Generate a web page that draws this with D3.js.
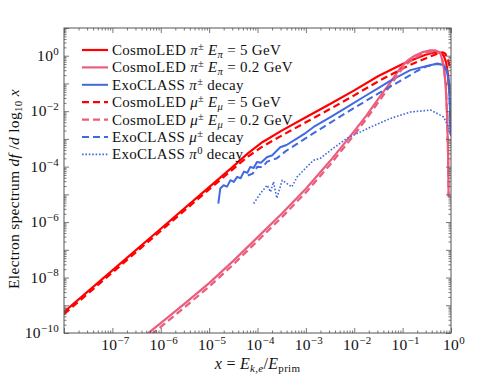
<!DOCTYPE html>
<html><head><meta charset="utf-8">
<script src="https://cdn.jsdelivr.net/npm/d3@7"></script>
<style>body{margin:0;background:#fff}svg{display:block}text{font-family:"Liberation Serif","DejaVu Serif",serif;fill:#111}</style>
</head><body><svg id="c" width="498" height="374"></svg>
<script>
// ---- data (log10 x, log10 y) ----
const redSolidX = [-8,-7,-6,-5,-4.5,-4.2,-3.9,-3.5,-3,-2.5,-2,-1.5,-1.0,-0.7,-0.5,-0.35,-0.25,-0.15,-0.1,-0.06,-0.04];
const redSolidY = [-9.24,-7.74,-6.24,-4.74,-3.99,-3.52,-3.12,-2.70,-2.22,-1.74,-1.25,-0.73,-0.30,-0.08,0.05,0.12,0.13,0.0,-0.25,-0.7,-1.2];
const redDashX = [-8,-7,-6,-5,-4.5,-4.2,-3.9,-3.5,-3,-2.5,-2,-1.5,-1.0,-0.7,-0.5,-0.35,-0.25,-0.18,-0.12,-0.07,-0.03];
const redDashY = [-9.32,-7.82,-6.32,-4.82,-4.08,-3.64,-3.28,-2.88,-2.40,-1.92,-1.43,-0.92,-0.46,-0.22,-0.08,0.03,0.10,0.12,0.08,-0.10,-0.38];
const pinkSolidX = [-6.3,-6,-5.5,-5,-4.5,-4,-3.5,-3,-2.5,-2,-1.75,-1.5,-1.25,-1.05,-0.9,-0.75,-0.6,-0.45,-0.32,-0.22,-0.15,-0.11,-0.08,-0.06,-0.05];
const pinkSolidY = [-10.06,-9.64,-8.93,-8.20,-7.40,-6.55,-5.70,-4.80,-3.80,-2.72,-2.16,-1.55,-0.95,-0.45,-0.18,0.0,0.12,0.19,0.19,0.12,-0.40,-1.06,-2.2,-3.6,-5.1];
const pinkDashX = [-6.2,-6,-5.5,-5,-4.5,-4,-3.5,-3,-2.5,-2,-1.75,-1.5,-1.25,-1.05,-0.9,-0.75,-0.6,-0.45,-0.32,-0.22,-0.15,-0.11,-0.08,-0.06,-0.05];
const pinkDashY = [-10.06,-9.78,-9.06,-8.33,-7.53,-6.68,-5.83,-4.93,-3.93,-2.85,-2.28,-1.67,-1.07,-0.56,-0.28,-0.08,0.05,0.13,0.15,0.10,-0.35,-1.0,-2.1,-3.5,-5.0];
const blueSolidX = [-4.81,-4.77,-4.70,-4.63,-4.56,-4.49,-4.42,-4.35,-4.28,-4.21,-4.15,-4.08,-4.01,-3.93,-3.80,-3.70,-3.53,-3.40,-3.18,-3.0,-2.84,-2.5,-2.15,-1.8,-1.46,-1.25,-0.84,-0.56,-0.28,-0.15,-0.08,-0.04,-0.02,-0.01];
const blueSolidY = [-5.33,-4.79,-4.67,-4.72,-4.49,-4.55,-4.37,-4.42,-4.18,-4.22,-4.01,-4.05,-3.83,-3.86,-3.65,-3.60,-3.30,-3.22,-2.98,-2.78,-2.57,-2.22,-1.85,-1.48,-1.12,-0.90,-0.52,-0.40,-0.28,-0.34,-0.60,-1.06,-2.0,-2.86];
const blueDashX = [-4.2,-4.1,-4.0,-3.9,-3.8,-3.6,-3.4,-3.2,-3.0,-2.5,-2.0,-1.5,-1.0,-0.7,-0.5,-0.3,-0.15,-0.08,-0.04,-0.02,-0.01];
const blueDashY = [-4.32,-4.25,-4.0,-4.02,-3.82,-3.70,-3.42,-3.20,-2.97,-2.42,-1.88,-1.36,-0.86,-0.55,-0.38,-0.30,-0.32,-0.55,-1.0,-1.9,-2.8];
const blueDotX = [-4.08,-3.94,-3.80,-3.73,-3.67,-3.60,-3.49,-3.39,-3.29,-3.18,-2.98,-2.84,-2.70,-2.49,-2.15,-1.66,-1.25,-0.84,-0.42,-0.15,-0.04,0];
const blueDotY = [-5.33,-4.97,-4.67,-4.91,-4.55,-5.14,-4.49,-4.61,-4.73,-4.37,-4.01,-3.77,-3.70,-3.41,-2.98,-2.57,-2.26,-2.03,-1.96,-2.21,-2.62,-2.9];

const xTickExp = [-7,-6,-5,-4,-3,-2,-1,0];
const yTickExp = [-10,-8,-6,-4,-2,0];

const series = [
  {name:"redSolid", xs:redSolidX, ys:redSolidY, color:"#ff0000", dash:null, w:2.2},
  {name:"pinkSolid", xs:pinkSolidX, ys:pinkSolidY, color:"#ec5c7c", dash:null, w:2.2},
  {name:"blueSolid", xs:blueSolidX, ys:blueSolidY, color:"#4169e1", dash:null, w:2.0},
  {name:"redDash", xs:redDashX, ys:redDashY, color:"#ff0000", dash:"7,4", w:2.2},
  {name:"pinkDash", xs:pinkDashX, ys:pinkDashY, color:"#ec5c7c", dash:"7,4", w:2.2},
  {name:"blueDash", xs:blueDashX, ys:blueDashY, color:"#4169e1", dash:"7,4", w:2.0},
  {name:"blueDot", xs:blueDotX, ys:blueDotY, color:"#4169e1", dash:"1.6,1.8", w:1.6}
];

const L=64, R=451, T=28, B=333;
const svg = d3.select("#c");
const x = d3.scaleLog().domain([1e-8,1]).range([L,R]);
const y = d3.scaleLog().domain([1e-10,10]).range([B,T]);
const p10 = v => Math.pow(10,v);

svg.append("clipPath").attr("id","clip").append("rect").attr("x",L).attr("y",T).attr("width",R-L).attr("height",B-T);

const line = d3.line().x(d=>x(p10(d[0]))).y(d=>y(p10(d[1])));
const g = svg.append("g").attr("clip-path","url(#clip)");
series.forEach(s=>{
  const pts = s.xs.map((v,i)=>[v,s.ys[i]]);
  g.append("path").attr("d",line(pts)).attr("fill","none").attr("stroke",s.color)
   .attr("stroke-width",s.w).attr("stroke-dasharray",s.dash).attr("stroke-linejoin","round");
});

// axes
const axCol = "#555";
const xMaj = d3.range(-8,1).map(p10);
const xMin = []; for(let e=-8;e<0;e++) for(let k=2;k<10;k++) xMin.push(k*p10(e));
const yMaj = d3.range(-10,2).map(p10);
const yMin = []; for(let e=-10;e<1;e++) for(let k=2;k<10;k++) yMin.push(k*p10(e));
function draw(axisFn, scale, vals, size, tr){
  const a = svg.append("g").attr("transform",tr).call(axisFn(scale).tickValues(vals).tickSize(size).tickFormat(""));
  a.selectAll("path").remove();
  a.selectAll("line").attr("stroke",axCol).attr("stroke-width",0.8);
  return a;
}
draw(d3.axisBottom,x,xMaj,-5,`translate(0,${B})`);
draw(d3.axisBottom,x,xMin,-2.5,`translate(0,${B})`);
draw(d3.axisTop,x,xMaj,-5,`translate(0,${T})`);
draw(d3.axisTop,x,xMin,-2.5,`translate(0,${T})`);
draw(d3.axisLeft,y,yMaj,-5,`translate(${L},0)`);
draw(d3.axisLeft,y,yMin,-2.5,`translate(${L},0)`);
draw(d3.axisRight,y,yMaj,-5,`translate(${R},0)`);
draw(d3.axisRight,y,yMin,-2.5,`translate(${R},0)`);
svg.append("rect").attr("x",L).attr("y",T).attr("width",R-L).attr("height",B-T).attr("fill","none").attr("stroke",axCol).attr("stroke-width",1);

function pow10Label(sel, e){
  sel.append("tspan").text("10");
  sel.append("tspan").attr("dy","-0.55em").attr("font-size","11px").text(e<0?"\u2212"+(-e):String(e));
}
xTickExp.forEach(e=>{
  const t = svg.append("text").attr("x",x(p10(e))+3).attr("y",350).attr("text-anchor","middle").attr("font-size","15.5px").attr("letter-spacing","0.3px");
  pow10Label(t,e);
});
yTickExp.forEach(e=>{
  const t = svg.append("text").attr("x",L-5).attr("y",y(p10(e))+5).attr("text-anchor","end").attr("font-size","15.5px").attr("letter-spacing","0.3px");
  pow10Label(t,e);
});

// axis labels
const xl = svg.append("text").attr("x",(L+R)/2).attr("y",369).attr("text-anchor","middle").attr("font-size","16px").attr("letter-spacing","0.3px");
xl.append("tspan").attr("font-style","italic").text("x");
xl.append("tspan").text(" = ");
xl.append("tspan").attr("font-style","italic").text("E");
xl.append("tspan").attr("font-style","italic").attr("font-size","11px").attr("dy","3").text("k,e");
xl.append("tspan").attr("dy","-3").text("/");
xl.append("tspan").attr("font-style","italic").text("E");
xl.append("tspan").attr("font-size","11px").attr("dy","3").text("prim");

const yl = svg.append("text").attr("transform","translate(19,189) rotate(-90)").attr("text-anchor","middle").attr("font-size","15.5px").attr("letter-spacing","0.3px");
yl.append("tspan").text("Electron spectrum ");
yl.append("tspan").attr("font-style","italic").text("df");
yl.append("tspan").text(" /");
yl.append("tspan").attr("font-style","italic").text("d");
yl.append("tspan").text(" log");
yl.append("tspan").attr("font-size","11px").attr("dy","3").text("10");
yl.append("tspan").attr("dy","-3").attr("font-style","italic").text(" x");

// legend
const legendParts = [
  ["CosmoLED ","π","±","E","π"," = 5 GeV"],
  ["CosmoLED ","π","±","E","π"," = 0.2 GeV"],
  ["ExoCLASS ","π","±",null,null," decay"],
  ["CosmoLED ","μ","±","E","μ"," = 5 GeV"],
  ["CosmoLED ","μ","±","E","μ"," = 0.2 GeV"],
  ["ExoCLASS ","μ","±",null,null," decay"],
  ["ExoCLASS ","π","0",null,null," decay"]
];
const legOrder = ["redSolid","pinkSolid","blueSolid","redDash","pinkDash","blueDash","blueDot"];
legOrder.forEach((nm,i)=>{
  const s = series.find(d=>d.name===nm);
  const yy = 50 + i*17.4;
  svg.append("line").attr("x1",82).attr("x2",108).attr("y1",yy).attr("y2",yy).attr("stroke",s.color)
    .attr("stroke-width",s.w).attr("stroke-dasharray",s.dash);
  const p = legendParts[i];
  const t = svg.append("text").attr("x",112).attr("y",yy+5).attr("font-size","15px").attr("letter-spacing","0.3px");
  t.append("tspan").text(p[0]);
  t.append("tspan").attr("font-style","italic").text(p[1]);
  t.append("tspan").attr("font-size","10.5px").attr("dy","-5").text(p[2]);
  if(p[3]){
    t.append("tspan").attr("dy","5").attr("font-style","italic").text(" "+p[3]);
    t.append("tspan").attr("font-style","italic").attr("font-size","10.5px").attr("dy","3").text(p[4]);
    t.append("tspan").attr("dy","-3").text(p[5]);
  } else {
    t.append("tspan").attr("dy","5").text(p[5]);
  }
});
</script></body></html>
